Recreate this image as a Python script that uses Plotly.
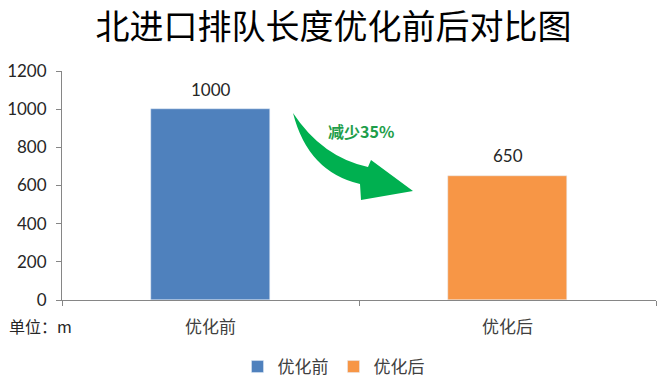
import plotly.graph_objects as go

title = "北进口排队长度优化前后对比图"
categories = ["优化前", "优化后"]
series_names = ["优化前", "优化后"]
values = [1000, 650]
colors = ["#4F81BD", "#F79646"]
y_ticks = [0, 200, 400, 600, 800, 1000, 1200]
note_text = "减少35%"
unit_text = "单位：m"

W, H = 667, 389
L, R, T, B = 62, 11, 71, 89
PW, PH = W - L - R, H - T - B

def px(x, y):
    return (x - L) / PW, (H - B - y) / PH

fig = go.Figure()
for name, cat, val, col in zip(series_names, categories, values, colors):
    fig.add_trace(go.Bar(x=[cat], y=[val], name=name, marker_color=col, width=0.4))
    fig.add_annotation(x=cat, y=val, text=str(val), showarrow=False, yanchor="middle",
                       yshift=20, font=dict(family="Lato", size=17, color="#262626"))

# curved green arrow (decoration) in pixel -> paper coordinates
pts = {
    "tail": (293, 113), "c1": (322, 157), "hb1": (368, 167), "b1": (371, 160),
    "tip": (413, 191), "b2": (361, 200), "hb2": (360, 184), "c2": (308, 172),
}
p = {k: px(*v) for k, v in pts.items()}
path = (f"M {p['tail'][0]},{p['tail'][1]} Q {p['c1'][0]},{p['c1'][1]} {p['hb1'][0]},{p['hb1'][1]} "
        f"L {p['b1'][0]},{p['b1'][1]} L {p['tip'][0]},{p['tip'][1]} L {p['b2'][0]},{p['b2'][1]} "
        f"L {p['hb2'][0]},{p['hb2'][1]} Q {p['c2'][0]},{p['c2'][1]} {p['tail'][0]},{p['tail'][1]} Z")
fig.add_shape(type="path", path=path, xref="paper", yref="paper",
              fillcolor="#00B050", line=dict(width=0))

tx, ty = px(361, 131)
fig.add_annotation(x=tx, y=ty, xref="paper", yref="paper", text=f"<b>{note_text}</b>",
                   showarrow=False, yanchor="middle",
                   font=dict(family="Noto Sans CJK SC", size=16, color="#1E9E4A"))
ux, uy = px(7, 326)
fig.add_annotation(x=ux, y=uy, xref="paper", yref="paper", text=unit_text, xanchor="left",
                   yanchor="middle", showarrow=False,
                   font=dict(family="Noto Sans CJK SC", size=16, color="#262626"))

fig.update_layout(
    width=W, height=H, margin=dict(l=L, r=R, t=T, b=B, autoexpand=False),
    paper_bgcolor="white", plot_bgcolor="white",
    barmode="overlay", bargap=0,
    title=dict(text=title, x=0.5, xref="container", xanchor="center", y=1 - 27 / H,
               yref="container", yanchor="middle",
               font=dict(family="Noto Sans CJK SC", size=34, color="#000000")),
    xaxis=dict(type="category", categoryorder="array", categoryarray=categories,
               showline=True, linecolor="#868686", linewidth=1, ticks="outside",
               tickson="boundaries", ticklen=5, tickcolor="#868686", ticklabelstandoff=12,
               tickfont=dict(family="Noto Sans CJK SC", size=17, color="#404040"),
               range=[-0.5, 1.5], fixedrange=True, automargin=False),
    yaxis=dict(range=[0, 1200], tickvals=y_ticks, showline=True, linecolor="#868686",
               linewidth=1, ticks="outside", ticklen=5, tickcolor="#868686", showgrid=False,
               zeroline=False, ticklabelstandoff=6, automargin=False,
               tickfont=dict(family="Lato", size=17, color="#262626")),
    legend=dict(orientation="h", x=0.5, xanchor="center", xref="container",
                y=22 / H, yref="container", yanchor="middle",
                font=dict(family="Noto Sans CJK SC", size=17, color="#404040"),
                itemwidth=30),
    showlegend=True,
)

fig.write_html("out.html")
